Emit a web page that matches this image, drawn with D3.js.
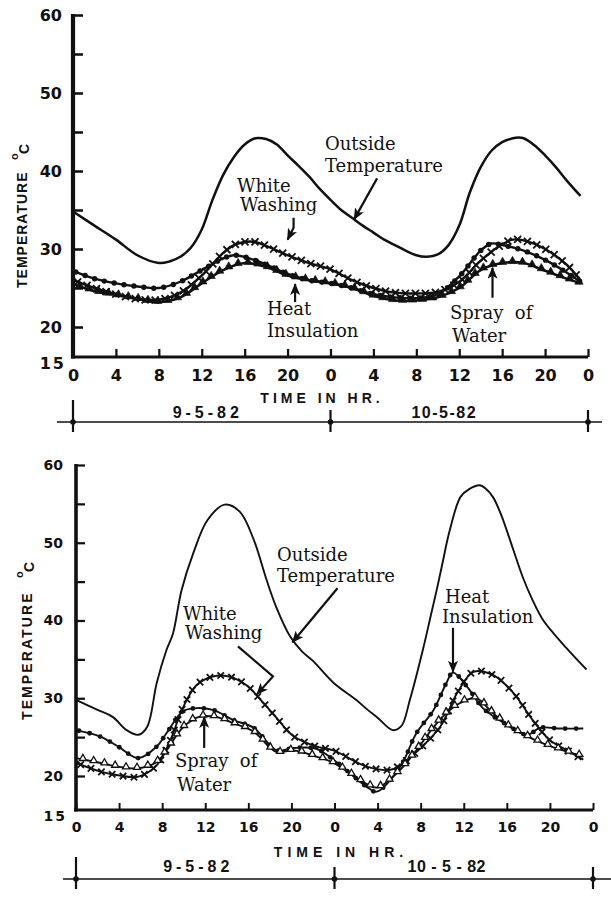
<!DOCTYPE html>
<html><head><meta charset="utf-8">
<script src="https://cdn.jsdelivr.net/npm/d3@7"></script>
<style>body{margin:0;background:#fff}</style>
</head><body>
<svg id="c" width="611" height="902"></svg>
<script>
// ---------- DATA ----------
const hourTicks = [0,4,8,12,16,20,24,28,32,36,40,44,48];
const hourTickLabels = ["0","4","8","12","16","20","0","4","8","12","16","20","0"];
const tempTicks = [20,25,30,35,40,45,50,55,60];
const tempTickLabels = ["20","","30","","40","","50","","60"];
const dateLabels = ["9-5-82","10-5-82"];
const dateLabelsBottom = ["9-5-82","10 - 5 - 82"];

// Top panel
const topOutHr = [0,2,4,6,8,9,10,11,12,13,14,15,16,17,18,19,20,21,22,23,24,25,26,27,28,29,30,31,32,33,34,35,36,37,38,39,40,41,41.5,42,43,44,45,46,47.3];
const topOutT  = [34.8,33,31.2,29.2,28.2,28.4,29,30.2,32.5,36.3,39.5,41.8,43.4,44.2,44.1,43.4,42,40.7,39.3,37.7,36.3,35,34,33,32.1,31.2,30.5,29.8,29.2,29,29.3,30.5,33,37.3,40.5,42.6,43.7,44.2,44.3,44.2,43.3,42,40.5,38.8,36.8];

const topWWHr = [0,2,4,6,8,10,12,14,15,16,17,18,20,22,24,26,28,30,32,34,36,38,40,41,42,44,46,47.3];
const topWWT  = [26,25,24.2,23.6,23.5,24.4,26.6,29.5,30.5,30.9,30.9,30.4,29.2,28.2,27.4,26,25,24.4,24.3,24.5,25.8,28.5,30.6,31.2,31.1,30,28,26];

const topHIHr = [0,2,4,6,8,10,12,14,15,16,18,20,22,24,26,28,30,32,34,36,38,39,40,42,44,46,47.3];
const topHIT  = [27.2,26.2,25.6,25.2,25,25.8,27.3,28.8,29.2,29,28,26.8,26,25.6,25,24.2,23.8,23.7,24.2,26.5,29.8,30.7,30.5,29.8,28.6,27,25.8];

const topSWHr = [0,2,4,6,8,10,12,14,16,18,20,22,24,26,28,30,32,34,36,38,40,42,44,46,47.3];
const topSWT  = [25.5,24.6,24.1,23.6,23.2,23.8,25.6,27.3,28.2,27.7,26.6,26,25.6,25,24,23.4,23.4,23.8,25,27.3,28.2,28.2,27.2,26.2,25.6];

// Bottom panel
const botOutHr = [0,2,3.4,4.7,5.8,6.6,7.5,8.4,9,9.8,10.9,12.2,13.8,15.2,16.5,17.7,18.6,19.9,21,22,23.9,26,27,28,29.4,30.2,31,32.2,33,33.5,34,34.7,35.7,36.5,37.5,38,38.7,39.5,40.6,41.5,42.4,43.3,44.3,45.5,46.5,47.4];
const botOutT  = [29.8,28.5,27.6,25.9,25.3,26.3,32,36.2,38.3,43.9,48.7,52.9,54.9,54,50.4,45.2,41.7,37.9,36,34.8,32,29.8,28.6,27.5,25.9,26.4,29.8,36.2,41,44,47.2,51.6,55.9,56.9,57.4,57,55.9,53.5,49.1,45.5,42.6,40.2,38.4,36.5,35,33.7];

const botWWHr = [0,2.2,3.9,5.8,7.5,8.7,9.9,11.2,12.7,14.2,15.8,17.4,18.6,20.2,22.3,23.9,27,29.2,30.1,31.6,33.8,35.4,36.9,38.7,40.6,42.4,44,45.6,47.1];
const botWWT  = [21.7,20.6,20.1,19.9,21.4,24.4,28.7,31.7,32.8,32.8,31.7,29.4,27.5,25.1,23.8,23.3,21.2,20.8,21.4,23.1,26.3,30.7,33.4,33,30.7,27.2,24.6,23.3,22.1];

const botHIHr = [0,2.2,3.9,5.8,7.5,8.4,9.9,10.9,12.7,14.6,16.5,18.6,20.2,22.3,23.9,25.4,27,27.9,30.1,31.6,33.2,34.4,35,36.3,37.8,40,41.9,43.1,45,47.1];
const botHIT  = [25.9,25.1,23.8,22.3,23.8,25.5,28.3,28.7,28.5,27.2,26.2,23.3,23.6,23.5,22.1,20.4,18.4,17.7,21.2,25.5,28.5,32,33.3,31.5,28.7,26.6,25.3,26.2,26.1,26.1];

const botSWHr = [0,2.2,3.9,5.8,7.5,8.4,9.9,11.4,13,14.6,16.5,18.6,20.2,22.3,23.9,27,28,30.1,31.6,33.2,34.7,36.3,37.2,38.7,40.3,41.9,43.7,47.1];
const botSWT  = [22.3,21.7,21.2,21,21.8,23.3,26.2,27.6,27.6,26.8,25.7,23.1,23.3,22.5,21.7,18.8,18.3,20.8,23.3,26.3,28.5,29.8,30,28.1,26.3,25.1,24,22.5];

// ---------- DRAW ----------
const svg = d3.select('#c');
const ink = '#111';

const defs = svg.append('defs');
defs.append('marker').attr('id','arr').attr('viewBox','0 0 12 10').attr('refX',11).attr('refY',5)
  .attr('markerWidth',12).attr('markerHeight',10).attr('markerUnits','userSpaceOnUse').attr('orient','auto')
  .append('path').attr('d','M0,0 L12,5 L0,10 L3,5 Z').attr('fill',ink);

function panel(cfg) {
  const g = svg.append('g');
  const x = d3.scaleLinear([0,48],[cfg.x0,cfg.x1]);
  const y = d3.scaleLinear([15,20,60],[cfg.yBase,cfg.y20,cfg.y60]);

  // Y axis
  const ya = g.append('g').attr('transform',`translate(${cfg.x0},0)`)
    .call(d3.axisLeft(y).tickValues(tempTicks).tickSizeInner(-cfg.tick).tickSizeOuter(0)
      .tickPadding(cfg.yPad).tickFormat((d,i)=>tempTickLabels[i]));
  ya.select('.domain').remove();
  ya.append('line').attr('x1',0).attr('x2',0).attr('y1',cfg.yBase+1.5).attr('y2',y(60)-1)
    .attr('stroke',ink).attr('stroke-width',cfg.yW);
  ya.selectAll('.tick line').attr('stroke',ink).attr('stroke-width',cfg.axW*0.8);
  ya.selectAll('text').attr('font-family','DejaVu Sans').attr('font-weight','bold')
    .attr('font-size',cfg.tickFs).attr('fill',ink);
  // 15 label
  g.append('text').attr('x',cfg.x0-cfg.yPad+4).attr('y',y(15)).attr('dy','0.75em').attr('text-anchor','end')
    .attr('font-family','DejaVu Sans').attr('font-weight','bold').attr('font-size',cfg.tickFs).attr('fill',ink)
    .attr('letter-spacing',2).text('15');

  // X axis
  const xa = g.append('g').attr('transform',`translate(0,${cfg.yBase})`)
    .call(d3.axisBottom(x).tickValues(hourTicks).tickSizeInner(-cfg.tick+2).tickSizeOuter(0)
      .tickPadding(cfg.xPad).tickFormat((d,i)=>hourTickLabels[i]));
  xa.select('.domain').remove();
  xa.append('line').attr('x1',cfg.x0-2).attr('x2',x(48)).attr('y1',0).attr('y2',0)
    .attr('stroke',ink).attr('stroke-width',cfg.axW);
  xa.selectAll('.tick line').attr('stroke',ink).attr('stroke-width',cfg.axW*0.7);
  xa.selectAll('text').attr('font-family','DejaVu Sans').attr('font-weight','bold')
    .attr('font-size',cfg.tickFs).attr('fill',ink);

  // axis titles
  g.append('text').attr('x',cfg.timeX).attr('y',cfg.timeY).attr('text-anchor','middle')
    .attr('font-family','Liberation Sans').attr('font-weight','bold').attr('font-size',14)
    .attr('letter-spacing',cfg.timeLS).attr('fill',ink).text('TIME IN HR.');
  g.append('text').attr('transform',`translate(${cfg.tempX},${cfg.tempY}) rotate(-90)`)
    .attr('font-family','Liberation Sans').attr('font-weight','bold').attr('font-size',14)
    .attr('letter-spacing',cfg.tempLS).attr('fill',ink).text('TEMPERATURE');
  g.append('text').attr('transform',`translate(${cfg.tempX-9},${cfg.degY}) rotate(-90)`)
    .attr('font-family','Liberation Sans').attr('font-weight','bold').attr('font-size',11).attr('fill',ink).text('o');
  g.append('text').attr('transform',`translate(${cfg.tempX+2},${cfg.degY-6}) rotate(-90)`)
    .attr('font-family','Liberation Sans').attr('font-weight','bold').attr('font-size',14).attr('fill',ink).text('C');

  // date line
  const dl = g.append('g');
  dl.append('line').attr('x1',cfg.dateL).attr('x2',cfg.dateR).attr('y1',cfg.dateY).attr('y2',cfg.dateY)
    .attr('stroke',ink).attr('stroke-width',1.6);
  [0,24,48].forEach((h,i)=>{
    const len = i===0 ? [22,10] : [12,10];
    dl.append('line').attr('x1',x(h)).attr('x2',x(h)).attr('y1',cfg.dateY-len[0]).attr('y2',cfg.dateY+len[1])
      .attr('stroke',ink).attr('stroke-width',2.2);
    dl.append('circle').attr('cx',x(h)).attr('cy',cfg.dateY).attr('r',2.8).attr('fill',ink);
  });
  [12,36].forEach((h,i)=>{
    dl.append('text').attr('x',x(h)+cfg.dateDx[i]).attr('y',cfg.dateY-cfg.dateUp).attr('text-anchor','middle')
      .attr('font-family','Liberation Sans').attr('font-weight','bold').attr('font-size',16)
      .attr('letter-spacing',cfg.dateLS[i]).attr('fill',ink).text(cfg.dates[i]);
  });

  // series
  const line = d3.line().x(d=>x(d[0])).y(d=>y(d[1])).curve(d3.curveCatmullRom.alpha(0.5));
  cfg.series.forEach(s=>{
    const data = s.hr.map((h,i)=>[h,s.t[i]]);
    const p = g.append('path').datum(data).attr('d',line).attr('fill','none')
      .attr('stroke',ink).attr('stroke-width',s.w).attr('stroke-linejoin','round');
    if (!s.marker) return;
    const node = p.node(), L = node.getTotalLength();
    const pts = d3.range(s.off||5, L, s.gap).map(l=>node.getPointAtLength(l));
    const mg = g.append('g');
    pts.forEach(pt=>{
      if (s.marker==='x') {
        const k=s.k||3.2;
        mg.append('path').attr('d',`M${pt.x-k},${pt.y-k}L${pt.x+k},${pt.y+k}M${pt.x-k},${pt.y+k}L${pt.x+k},${pt.y-k}`)
          .attr('stroke',ink).attr('stroke-width',1.8);
      } else if (s.marker==='dot') {
        mg.append('circle').attr('cx',pt.x).attr('cy',pt.y).attr('r',s.r||2.4).attr('fill',ink);
      } else {
        mg.append('path').attr('d',d3.symbol(d3.symbolTriangle, s.open?22:30)())
          .attr('transform',`translate(${pt.x},${pt.y-1})`)
          .attr('fill',s.open?'#fff':ink).attr('stroke',ink).attr('stroke-width',s.open?1.3:0.6);
      }
    });
  });

  // annotations
  cfg.notes.forEach(n=>{
    n.lines.forEach((t,i)=>{
      g.append('text').attr('x',n.tx[i]).attr('y',n.ty[i]).attr('font-family','DejaVu Serif')
        .attr('font-size',18).attr('fill',ink).attr('xml:space','preserve').text(t);
    });
    const tip = [x(n.at[0]), y(n.at[1])];
    const pts = n.path.map(o=>[tip[0]+o[0], tip[1]+o[1]]).concat([tip]);
    g.append('path').attr('d',d3.line()(pts)).attr('fill','none').attr('stroke',ink)
      .attr('stroke-width',2.2).attr('marker-end','url(#arr)');
  });
}

panel({
  x0:73, x1:588, yBase:357, y20:327, y60:15, tick:10, axW:3.2, yW:4.2, yPad:11, xPad:13, tickFs:16,
  timeX:322, timeY:403, timeLS:4, tempX:27, tempY:288, tempLS:1, degY:160,
  dateL:57, dateR:602, dateY:422, dateUp:4, dateDx:[6,-15], dateLS:[4,1.5], dates:dateLabels,
  series:[
    {hr:topOutHr, t:topOutT, w:2.5},
    {hr:topWWHr, t:topWWT, w:2.4, marker:'x', gap:10, k:3.5},
    {hr:topHIHr, t:topHIT, w:2.4, marker:'dot', gap:10, off:3, r:2.7},
    {hr:topSWHr, t:topSWT, w:2.6, marker:'tri', gap:10, off:7}
  ],
  notes:[
    {lines:['Outside','Temperature'], tx:[325,325], ty:[150,172], at:[26.2,33.8], path:[[23,-41]]},
    {lines:['White','Washing'], tx:[237,240], ty:[192,211], at:[20,31.2], path:[[6,-22],[6,-12]]},
    {lines:['Heat','Insulation'], tx:[267,267], ty:[315,337], at:[20.7,25.5], path:[[0,18]]},
    {lines:['Spray  of','Water'], tx:[450,452], ty:[319,342], at:[39.1,27.6], path:[[0,30]]}
  ]
});

panel({
  x0:76, x1:593, yBase:810, y20:776, y60:465, tick:9, axW:2.8, yW:3.6, yPad:13, xPad:12, tickFs:14,
  timeX:341, timeY:857, timeLS:5, tempX:32, tempY:720, tempLS:2.1, degY:578,
  dateL:63, dateR:611, dateY:879, dateUp:7, dateDx:[-7,-17], dateLS:[4,0.5], dates:dateLabelsBottom,
  series:[
    {hr:botOutHr, t:botOutT, w:1.9},
    {hr:botWWHr, t:botWWT, w:1.9, marker:'x', gap:11},
    {hr:botHIHr, t:botHIT, w:1.9, marker:'dot', gap:11, off:3},
    {hr:botSWHr, t:botSWT, w:1.9, marker:'tri', gap:11, off:7, open:true}
  ],
  notes:[
    {lines:['Outside','Temperature'], tx:[277,277], ty:[561,582], at:[20.1,37.2], path:[[45,-54]]},
    {lines:['White','Washing'], tx:[183,185], ty:[620,639], at:[16.8,30.5], path:[[-19,-48],[16,-18]]},
    {lines:['Heat','Insulation'], tx:[445,442], ty:[603,623], at:[35,33.4], path:[[0,-44]]},
    {lines:['Spray  of','Water'], tx:[175,177], ty:[767,791], at:[11.9,27.6], path:[[0,31]]}
  ]
});
</script>
</body></html>
